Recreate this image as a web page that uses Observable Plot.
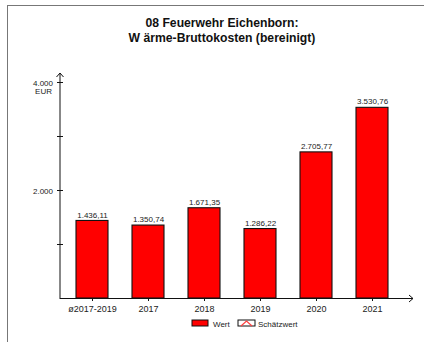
<!DOCTYPE html>
<html>
<head>
<meta charset="utf-8">
<script src="https://cdn.jsdelivr.net/npm/d3@7"></script>
<script src="https://cdn.jsdelivr.net/npm/@observablehq/plot@0.6"></script>
<style>
  html, body { margin: 0; padding: 0; background: #fff; overflow: hidden; width: 424px; height: 342px; }
  #chart { width: 424px; height: 342px; overflow: hidden; }
  svg { display: block; }
</style>
</head>
<body>
<div id="chart"></div>
<script>
const categories = ["ø2017-2019", "2017", "2018", "2019", "2020", "2021"];
const values = [1436.11, 1350.74, 1671.35, 1286.22, 2705.77, 3530.76];
const yTicks = [1000, 2000, 3000, 4000];
const yTickLabels = {2000: "2.000", 4000: "4.000"};
const titleLines = ["08 Feuerwehr Eichenborn:", "W ärme-Bruttokosten (bereinigt)"];
const unitLabel = "EUR";
const legendLabels = ["Wert", "Schätzwert"];

const data = categories.map((c, i) => ({cat: c, value: values[i]}));
const de = d3.formatLocale({decimal: ",", thousands: ".", grouping: [3], currency: ["", "€"]});
const fmt = de.format(",.2f");
const FONT = "'Liberation Sans', Arial, sans-serif";

const chart = Plot.plot({
  width: 424,
  height: 342,
  margin: 0,
  style: {fontFamily: FONT, background: "#fff"},
  x: {type: "band", domain: categories, range: [62.8, 401.2], paddingInner: 0.433, paddingOuter: 0.2165, axis: null},
  y: {domain: [0, 4000], range: [298, 82], axis: null},
  marks: [
    Plot.barY(data, {x: "cat", y: "value", fill: "#ff0000", stroke: "#111", strokeWidth: 1.1}),
    Plot.text(data, {x: "cat", y: "value", text: d => fmt(d.value), dy: -6, fontSize: 8, fill: "#222"})
  ]
});

const svg = d3.select(chart);
const xs = chart.scale("x");
const ys = chart.scale("y");
const y0 = ys.apply(0);
const axisX = 60;

function txt(x, y, s, size, anchor, weight) {
  return svg.append("text").attr("x", x).attr("y", y).attr("text-anchor", anchor || "start")
    .attr("font-family", FONT).attr("font-size", size).attr("font-weight", weight || "normal")
    .attr("fill", "#222").text(s);
}

// frame (top and left border)
svg.append("line").attr("x1", 7).attr("x2", 424).attr("y1", 5.5).attr("y2", 5.5).attr("stroke", "#777").attr("stroke-width", 1);
svg.append("line").attr("x1", 7.5).attr("x2", 7.5).attr("y1", 5).attr("y2", 342).attr("stroke", "#777").attr("stroke-width", 1);

// title
titleLines.forEach((t, i) => {
  txt(222, 27 + i * 14.5, t, 12.2, "middle", "bold").attr("fill", "#111");
});

// y axis line with arrow
const yTop = ys.apply(4000) - 9;
svg.append("line").attr("x1", axisX).attr("x2", axisX).attr("y1", y0 + 1).attr("y2", yTop).attr("stroke", "#111").attr("stroke-width", 1);
svg.append("path").attr("d", `M${axisX - 3.5},${yTop + 4} L${axisX},${yTop} L${axisX + 3.5},${yTop + 4}`)
  .attr("fill", "none").attr("stroke", "#111").attr("stroke-width", 1);

// x axis line with arrow
const xEnd = 413;
svg.append("line").attr("x1", axisX).attr("x2", xEnd).attr("y1", y0 + 0.5).attr("y2", y0 + 0.5).attr("stroke", "#111").attr("stroke-width", 1);
svg.append("path").attr("d", `M${xEnd - 4},${y0 - 3} L${xEnd},${y0 + 0.5} L${xEnd - 4},${y0 + 4}`)
  .attr("fill", "none").attr("stroke", "#111").attr("stroke-width", 1);

// y ticks
yTicks.forEach(v => {
  const y = Math.round(ys.apply(v)) + 0.5;
  svg.append("line").attr("x1", axisX - 3).attr("x2", axisX + 3).attr("y1", y).attr("y2", y).attr("stroke", "#111");
  if (yTickLabels[v]) txt(53, y + 3, yTickLabels[v], 8, "end");
});
txt(52, ys.apply(4000) + 12, unitLabel, 8, "end");

// x ticks and labels
categories.forEach(c => {
  const x = Math.round(xs.apply(c) + xs.bandwidth / 2) + 0.5;
  svg.append("line").attr("x1", x).attr("x2", x).attr("y1", y0).attr("y2", y0 + 3).attr("stroke", "#111");
  txt(x, y0 + 14, c, 9, "middle");
});

// legend
const ly = 320;
svg.append("rect").attr("x", 192).attr("y", ly).attr("width", 16).attr("height", 6)
  .attr("fill", "#ff0000").attr("stroke", "#111").attr("stroke-width", 1);
txt(213, ly + 6.5, legendLabels[0], 8, "start");
svg.append("rect").attr("x", 238).attr("y", ly).attr("width", 17).attr("height", 6)
  .attr("fill", "#fff").attr("stroke", "#111").attr("stroke-width", 1);
svg.append("path").attr("d", `M241,${ly + 6} L246.5,${ly + 1} L252,${ly + 6}`).attr("fill", "none").attr("stroke", "#ff4040").attr("stroke-width", 1.2);
txt(258, ly + 6.5, legendLabels[1], 8, "start");

document.getElementById("chart").appendChild(chart);
</script>
</body>
</html>
